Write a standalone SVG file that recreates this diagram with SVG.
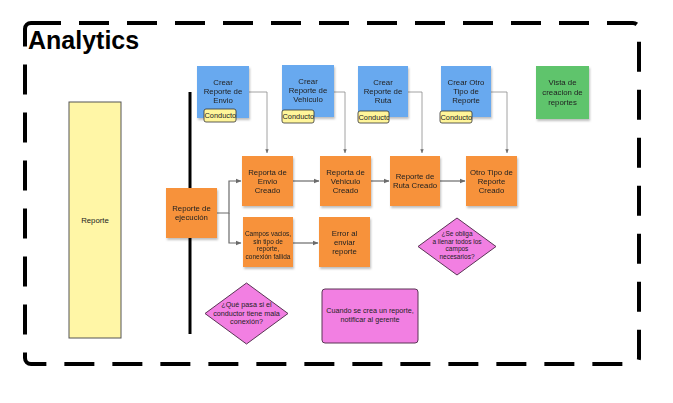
<svg xmlns="http://www.w3.org/2000/svg" width="673" height="403" viewBox="0 0 673 403">
<style>
text{font-family:"Liberation Sans",Arial,sans-serif;fill:#222;text-anchor:middle}
.t8{font-size:7.8px}
.t6{font-size:6.5px}
.t7{font-size:7.2px}
.blue{fill:#68a9ef}
.orange{fill:#f7923b}
.green{fill:#5ec46c}
.pink{fill:#f27fe2;stroke:#5a3555;stroke-width:1}
.cond{fill:#fff59a;stroke:#333;stroke-width:0.8}
.ct{font-size:7.4px;text-anchor:start}
.conn{fill:none;stroke:#6b6b6b;stroke-width:1.2}
.thin{fill:none;stroke:#8a8a8a;stroke-width:0.8}
</style>
<defs>
<filter id="sh" x="-20%" y="-20%" width="150%" height="150%">
<feDropShadow dx="1" dy="2" stdDeviation="1.2" flood-color="#000" flood-opacity="0.25"/>
</filter>
<marker id="ar" viewBox="0 0 6 6" refX="5.5" refY="3" markerWidth="5" markerHeight="5" orient="auto">
<path d="M0,0.5 L6,3 L0,5.5 z" fill="#6b6b6b"/>
</marker>
<clipPath id="c1"><rect x="204" y="109" width="32" height="13"/></clipPath>
<clipPath id="c2"><rect x="282" y="110" width="32" height="13"/></clipPath>
<clipPath id="c3"><rect x="358" y="111" width="31" height="12"/></clipPath>
<clipPath id="c4"><rect x="440" y="111" width="32" height="12"/></clipPath>
</defs>
<rect width="673" height="403" fill="#fff"/>
<rect x="25" y="23" width="614" height="341" rx="6" fill="none" stroke="#000" stroke-width="4" stroke-dasharray="30 18"/>
<text x="28" y="49" style="font-size:25px;font-weight:bold;fill:#000;text-anchor:start">Analytics</text>
<line x1="190" y1="92" x2="190" y2="334" stroke="#000" stroke-width="3"/>
<g id="connectors">
<path class="thin" d="M249,92 H267 V153" marker-end="url(#ar)"/>
<path class="thin" d="M333,92 H345 V153" marker-end="url(#ar)"/>
<path class="thin" d="M408,92 H422 V153" marker-end="url(#ar)"/>
<path class="thin" d="M491,92 H507 V153" marker-end="url(#ar)"/>
<path class="conn" d="M217,213 H229 V181 H241" marker-end="url(#ar)"/>
<path class="conn" d="M229,213 V243 H241" marker-end="url(#ar)"/>
<path class="conn" d="M293,181 H319" marker-end="url(#ar)"/>
<path class="conn" d="M371,181 H389" marker-end="url(#ar)"/>
<path class="conn" d="M440,181 H465" marker-end="url(#ar)"/>
<path class="conn" d="M293,243 H318" marker-end="url(#ar)"/>
</g>
<g id="reporte">
<rect x="69" y="102" width="52" height="236" fill="#fff6a6" stroke="#555" stroke-width="1"/>
<text class="t8" x="95" y="223">Reporte</text>
</g>
<g id="crear-envio" filter="url(#sh)">
<rect class="blue" x="197" y="66" width="52" height="52"/>
<text class="t8"><tspan x="223" y="85">Crear</tspan><tspan x="223" y="94">Reporte de</tspan><tspan x="223" y="103">Envio</tspan></text>
</g>
<g id="cond-envio">
<rect class="cond" x="204" y="109" width="32" height="13" rx="2"/>
<text class="ct" x="204.5" y="118.3" clip-path="url(#c1)">Conductor</text>
</g>
<g id="crear-vehiculo" filter="url(#sh)">
<rect class="blue" x="282" y="65" width="52" height="52"/>
<text class="t8"><tspan x="308" y="84">Crear</tspan><tspan x="308" y="93">Reporte de</tspan><tspan x="308" y="102">Vehiculo</tspan></text>
</g>
<g id="cond-vehiculo">
<rect class="cond" x="282" y="110" width="32" height="13" rx="2"/>
<text class="ct" x="282.5" y="119.3" clip-path="url(#c2)">Conductor</text>
</g>
<g id="crear-ruta" filter="url(#sh)">
<rect class="blue" x="358" y="66" width="50" height="51"/>
<text class="t8"><tspan x="383" y="85">Crear</tspan><tspan x="383" y="94">Reporte de</tspan><tspan x="383" y="103">Ruta</tspan></text>
</g>
<g id="cond-ruta">
<rect class="cond" x="358" y="111" width="31" height="12" rx="2"/>
<text class="ct" x="358.5" y="119.8" clip-path="url(#c3)">Conductor</text>
</g>
<g id="crear-otro" filter="url(#sh)">
<rect class="blue" x="441" y="66" width="50" height="51"/>
<text class="t8"><tspan x="466" y="85">Crear Otro</tspan><tspan x="466" y="94">Tipo de</tspan><tspan x="466" y="103">Reporte</tspan></text>
</g>
<g id="cond-otro">
<rect class="cond" x="440" y="111" width="32" height="12" rx="2"/>
<text class="ct" x="440.5" y="119.8" clip-path="url(#c4)">Conductor</text>
</g>
<g id="vista" filter="url(#sh)">
<rect class="green" x="536" y="66" width="53" height="53"/>
<text class="t8"><tspan x="562.5" y="85">Vista de</tspan><tspan x="562.5" y="95">creacion de</tspan><tspan x="562.5" y="105">reportes</tspan></text>
</g>
<g id="ejecucion" filter="url(#sh)">
<rect class="orange" x="166" y="188" width="51" height="50"/>
<text class="t8"><tspan x="191.5" y="211">Reporte de</tspan><tspan x="191.5" y="220">ejecución</tspan></text>
</g>
<g id="envio-creado" filter="url(#sh)">
<rect class="orange" x="242" y="156" width="51" height="50"/>
<text class="t8"><tspan x="267.5" y="175">Reporta de</tspan><tspan x="267.5" y="184">Envio</tspan><tspan x="267.5" y="193">Creado</tspan></text>
</g>
<g id="vehiculo-creado" filter="url(#sh)">
<rect class="orange" x="320" y="156" width="51" height="50"/>
<text class="t8"><tspan x="345.5" y="175">Reporta de</tspan><tspan x="345.5" y="184">Vehiculo</tspan><tspan x="345.5" y="193">Creado</tspan></text>
</g>
<g id="ruta-creado" filter="url(#sh)">
<rect class="orange" x="390" y="156" width="50" height="50"/>
<text class="t8"><tspan x="415" y="179">Reporte de</tspan><tspan x="415" y="188">Ruta Creado</tspan></text>
</g>
<g id="otro-creado" filter="url(#sh)">
<rect class="orange" x="466" y="156" width="51" height="50"/>
<text class="t8"><tspan x="491.5" y="175">Otro Tipo de</tspan><tspan x="491.5" y="184">Reporte</tspan><tspan x="491.5" y="193">Creado</tspan></text>
</g>
<g id="campos" filter="url(#sh)">
<rect class="orange" x="243" y="217" width="50" height="50"/>
<text class="t6"><tspan x="268" y="236">Campos vacios,</tspan><tspan x="268" y="243.5">sin tipo de</tspan><tspan x="268" y="251">reporte,</tspan><tspan x="268" y="258.5">conexión fallida</tspan></text>
</g>
<g id="error" filter="url(#sh)">
<rect class="orange" x="319" y="217" width="51" height="50"/>
<text class="t8"><tspan x="344.5" y="236">Error al</tspan><tspan x="344.5" y="245">enviar</tspan><tspan x="344.5" y="254">reporte</tspan></text>
</g>
<g id="obliga">
<path class="pink" d="M457,218 L496,246.5 L457,275 L418,246.5 z"/>
<text class="t6"><tspan x="457" y="236">¿Se obliga</tspan><tspan x="457" y="243.5">a llenar todos los</tspan><tspan x="457" y="251">campos</tspan><tspan x="457" y="258.5">necesarios?</tspan></text>
</g>
<g id="mala-conexion">
<path class="pink" d="M246.5,283 L288,313.5 L246.5,344 L205,313.5 z"/>
<text class="t7"><tspan x="246.5" y="307">¿Qué pasa si el</tspan><tspan x="246.5" y="315.5">conductor tiene mala</tspan><tspan x="246.5" y="324">conexión?</tspan></text>
</g>
<g id="notificar">
<rect class="pink" x="322" y="289" width="96" height="54" rx="3"/>
<text class="t7"><tspan x="370" y="313">Cuando se crea un reporte,</tspan><tspan x="370" y="322">notificar al gerente</tspan></text>
</g>
</svg>
